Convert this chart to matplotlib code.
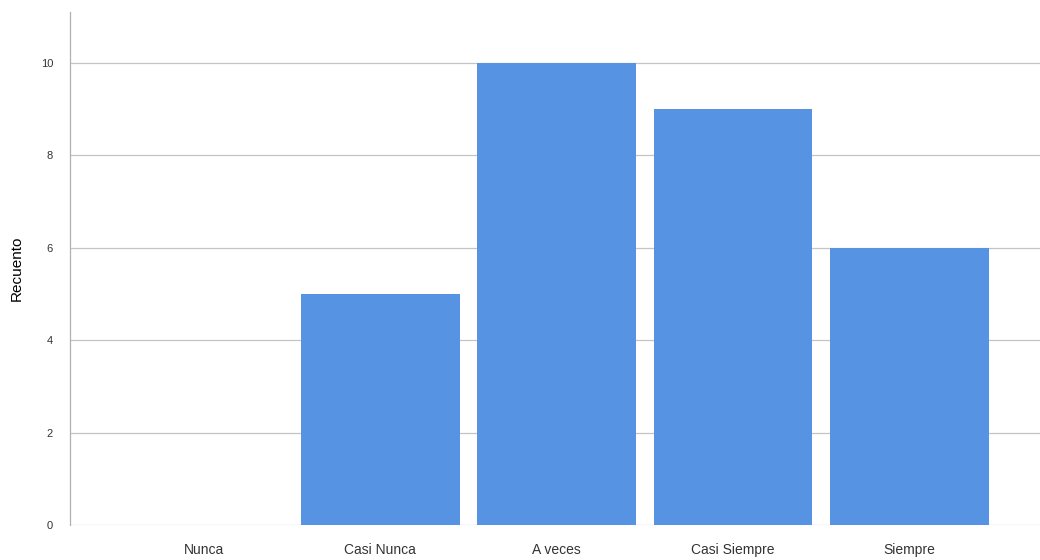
import matplotlib
matplotlib.use("Agg")
import numpy as np
from matplotlib import pyplot as plt

categories = ["Nunca", "Casi Nunca", "A veces", "Casi Siempre", "Siempre"]
counts = [0, 5, 10, 9, 6]
y_ticks = [0, 2, 4, 6, 8, 10]

plt.rcParams["font.family"] = ["Liberation Sans", "DejaVu Sans"]

fig = plt.figure(figsize=(10.4, 5.6), dpi=100)
ax = fig.add_axes([0.067, 0.0625, 0.933, 0.916])

x = np.arange(len(categories))
ax.bar(x, counts, width=0.9, color="#5693E2", zorder=2)

# Axes config ===============
ax.set_xlim(-0.76, 4.74)
ax.set_ylim(0, 11.1)
ax.set_yticks(y_ticks)
ax.yaxis.grid(True, color="#c4c4c4", linewidth=0.9, zorder=1)
ax.set_xticks(x)
ax.set_xticklabels(categories, fontsize=10, color="#333333")
ax.tick_params(axis="y", labelsize=8, length=0, pad=12, colors="#333333")
ax.tick_params(axis="x", length=0, pad=13)
ax.set_ylabel("Recuento", fontsize=11, labelpad=12)

for side in ["top", "right", "bottom"]:
    ax.spines[side].set_visible(False)
ax.spines["left"].set_color("#b0b0b0")
ax.spines["left"].set_linewidth(0.9)

fig.savefig("out.png", dpi=100)
